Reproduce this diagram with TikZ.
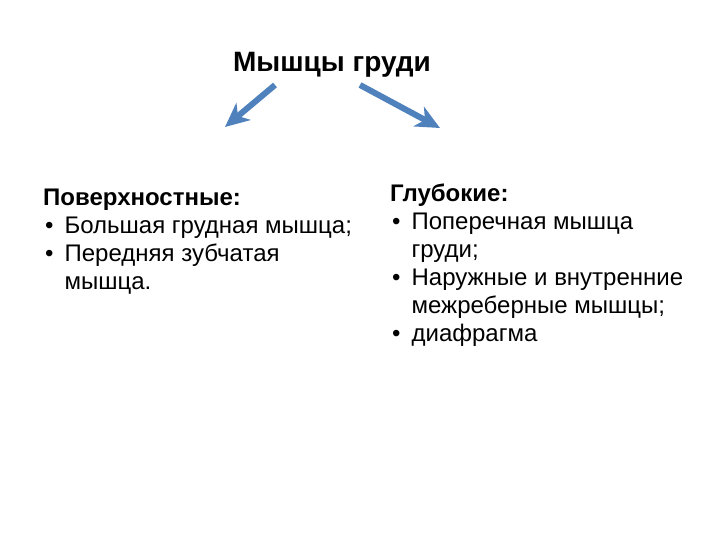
\documentclass[tikz,border=0pt]{standalone}
\usepackage{fontspec}
\setmainfont{Liberation Sans}
\usepackage{array}
\usetikzlibrary{arrows.meta}

\definecolor{arrowblue}{RGB}{79,129,189}

\tikzset{
  listtext/.style={anchor=north west,inner sep=0pt,align=left,font=\fontsize{24}{28}\selectfont},
  bluearrow/.style={->,>={Stealth[length=24pt,width=22pt,inset=7pt]},line width=6pt,arrowblue}
}

\begin{document}
\begin{tikzpicture}[x=1pt,y=-1pt]
         \useasboundingbox[fill=white] (0,0) rectangle (720,540);

         \node[inner sep=0pt,anchor=base,font=\fontsize{28}{32}\selectfont\bfseries](T) at (332,72) {Мышцы груди};

         \node[listtext](L) at (43,186) {%
           \begin{tabular}{@{}l@{\hspace{11pt}}l@{}}
           \multicolumn{2}{@{}l}{\textbf{Поверхностные:}}\\
           \hspace{2pt}\textbullet & Большая грудная мышца;\\
           \hspace{2pt}\textbullet & Передняя зубчатая\\
                       & мышца.
           \end{tabular}};

         \node[listtext](R) at (390,182) {%
           \begin{tabular}{@{}l@{\hspace{11pt}}l@{}}
           \multicolumn{2}{@{}l}{\textbf{Глубокие:}}\\
           \hspace{2pt}\textbullet & Поперечная мышца\\
                       & груди;\\
           \hspace{2pt}\textbullet & Наружные и внутренние\\
                       & межреберные мышцы;\\
           \hspace{2pt}\textbullet & диафрагма
           \end{tabular}};

         \coordinate (LS) at (275,85);
         \coordinate (LE) at (225,127);
         \coordinate (RS) at (360,85);
         \coordinate (RE) at (440,128);

         \draw[bluearrow](LS) -- (LE);
         \draw[bluearrow](RS) -- (RE);
\end{tikzpicture}
\end{document}
